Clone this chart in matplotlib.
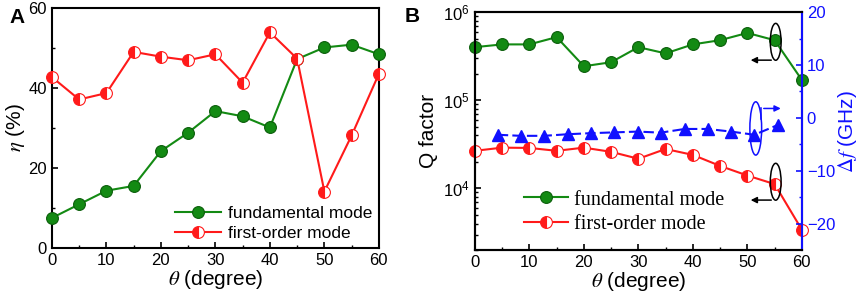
import matplotlib.pyplot as plt
from matplotlib.patches import Ellipse

plt.rcParams['font.family'] = ['Liberation Sans', 'DejaVu Sans']
plt.rcParams['mathtext.fontset'] = 'stix'

# data
theta = [0, 5, 10, 15, 20, 25, 30, 35, 40, 45, 50, 55, 60]
eta_fund = [7.5, 10.9, 14.3, 15.5, 24.2, 28.8, 34.2, 32.9, 30.1, 47.2, 50.1, 50.8, 48.4]
eta_first = [42.7, 37.1, 38.7, 49.0, 47.8, 46.9, 48.4, 41.3, 53.9, 47.3, 14.1, 28.1, 43.5]

q_fund = [4.0e5, 4.3e5, 4.3e5, 5.2e5, 2.43e5, 2.7e5, 4.0e5, 3.4e5, 4.3e5, 4.8e5, 5.8e5, 4.8e5, 1.7e5]
q_first = [2.67e4, 2.9e4, 2.88e4, 2.67e4, 2.9e4, 2.6e4, 2.17e4, 2.8e4, 2.4e4, 1.8e4, 1.4e4, 1.12e4, 3.4e3]

theta_df = [4.2, 8.4, 12.7, 17.0, 21.3, 25.5, 29.9, 34.1, 38.5, 42.7, 47.0, 51.3, 55.7]
df_ghz = [-3.2, -3.4, -3.4, -3.1, -2.9, -2.75, -2.6, -2.8, -2.1, -2.1, -2.6, -3.2, -1.3]

green = '#138a13'
red = '#ff1a1a'
blue = '#1010ff'

fig = plt.figure(figsize=(8.65, 3.02), dpi=100)

# ---- panel A
ax1 = fig.add_axes([0.060, 0.179, 0.378, 0.795])
ax1.plot(theta, eta_fund, '-o', color=green, lw=1.5, ms=8.5, mfc=green, mec='#0b5e0b', mew=0.8,
         label='fundamental mode', clip_on=False, zorder=3)
ax1.plot(theta, eta_first, '-o', color=red, lw=1.5, ms=8.5, fillstyle='left', mfc=red,
         mfcalt='white', mec=red, mew=0.8, label='first-order mode', clip_on=False, zorder=3)
ax1.set_xlim(0, 60)
ax1.set_ylim(0, 60)
ax1.set_xticks([0, 10, 20, 30, 40, 50, 60])
ax1.set_xticks(range(5, 60, 10), minor=True)
ax1.set_yticks([0, 20, 40, 60])
ax1.set_yticks([10, 30, 50], minor=True)
ax1.set_xlabel(r'$\theta$ (degree)', fontsize=15, labelpad=0)
ax1.set_ylabel(r'$\eta$ (%)', fontsize=15, labelpad=1)
ax1.legend(loc='lower right', frameon=False, fontsize=12.5, handlelength=2.6,
           borderaxespad=0.0, handletextpad=0.4, labelspacing=0.3)
ax1.text(-0.13, 1.0, 'A', transform=ax1.transAxes, fontsize=15, fontweight='bold', va='top')

# ---- panel B
ax2 = fig.add_axes([0.549, 0.172, 0.378, 0.788])
ax2.semilogy(theta, q_fund, '-o', color=green, lw=1.5, ms=8.5, mfc=green, mec='#0b5e0b', mew=0.8,
             label='fundamental mode', clip_on=False, zorder=3)
ax2.semilogy(theta, q_first, '-o', color=red, lw=1.5, ms=8.5, fillstyle='left', mfc=red,
             mfcalt='white', mec=red, mew=0.8, label='first-order mode', clip_on=False, zorder=3)
ax2.set_xlim(0, 60)
ax2.set_ylim(2e3, 1e6)
ax2.set_xticks([0, 10, 20, 30, 40, 50, 60])
ax2.set_xticks(range(5, 60, 10), minor=True)
ax2.set_xlabel(r'$\theta$ (degree)', fontsize=15, labelpad=0)
ax2.set_ylabel('Q factor', fontsize=15, labelpad=4)
ax2.legend(loc='lower left', bbox_to_anchor=(0.125, 0.035), frameon=False,
           prop={'family': 'Liberation Serif', 'size': 14.5}, handlelength=2.2,
           borderaxespad=0.0, handletextpad=0.3, labelspacing=0.25)
ax2.text(-0.215, 1.02, 'B', transform=ax2.transAxes, fontsize=15, fontweight='bold', va='top')

ax3 = ax2.twinx()
ax3.plot(theta_df, df_ghz, '--^', color=blue, lw=1.5, ms=8.5, dashes=(5, 2))
ax3.set_ylim(-25, 20)
ax3.set_yticks([-20, -10, 0, 10, 20])
ax3.set_yticks([-15, -5, 5, 15], minor=True)
ax3.set_ylabel(r'$\mathit{\Delta f}$ (GHz)', fontsize=15, color=blue, labelpad=1)
ax3.tick_params(axis='y', colors=blue, which='both')

for ax in (ax1, ax2, ax3):
    ax.tick_params(direction='in', which='major', length=4, width=1.2, labelsize=12)
    ax.tick_params(direction='in', which='minor', length=2.5, width=1.0)
    for s in ax.spines.values():
        s.set_linewidth(1.5)
ax3.spines['right'].set_color(blue)
ax3.spines['left'].set_color('black')

# annotation marks
t = ax2.transAxes
ax2.add_patch(Ellipse((0.92, 0.875), 0.033, 0.155, transform=t, fill=False, ec='black', lw=1.1, zorder=5))
ax2.annotate('', xy=(0.835, 0.798), xytext=(0.915, 0.798), xycoords=t,
             arrowprops=dict(arrowstyle='-|>', color='black', lw=1.1, mutation_scale=9))
ax2.add_patch(Ellipse((0.92, 0.287), 0.033, 0.155, transform=t, fill=False, ec='black', lw=1.1, zorder=5))
ax2.annotate('', xy=(0.835, 0.21), xytext=(0.915, 0.21), xycoords=t,
             arrowprops=dict(arrowstyle='-|>', color='black', lw=1.1, mutation_scale=9))
ax2.add_patch(Ellipse((0.859, 0.511), 0.036, 0.224, transform=t, fill=False, ec=blue, lw=1.1, zorder=5))
ax2.plot([0.876, 0.876], [0.55, 0.595], transform=t, color=blue, lw=1.1)
ax2.annotate('', xy=(0.944, 0.595), xytext=(0.875, 0.595), xycoords=t,
             arrowprops=dict(arrowstyle='-|>', color=blue, lw=1.1, mutation_scale=9))

fig.savefig('out.png', dpi=100)
